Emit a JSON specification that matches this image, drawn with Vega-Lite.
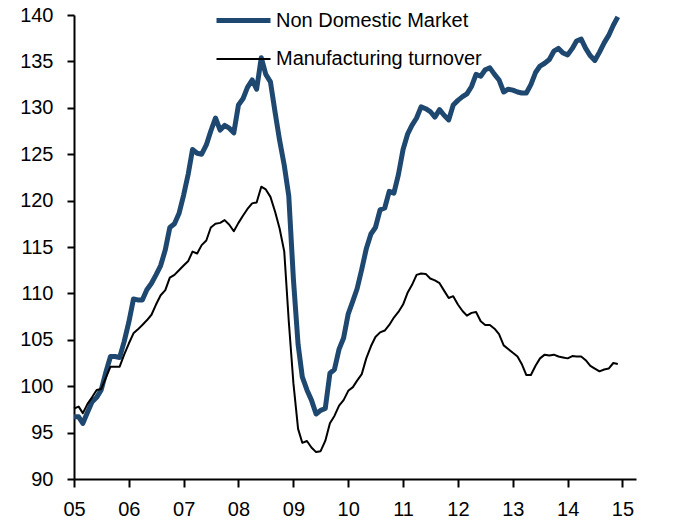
{
  "$schema": "https://vega.github.io/schema/vega-lite/v6.json",
  "width": 562,
  "height": 464,
  "autosize": "none",
  "padding": {"left": 74, "top": 15, "right": 38, "bottom": 42},
  "background": "white",
  "config": {
    "view": {"stroke": null},
    "axis": {"grid": false, "domainColor": "black", "tickColor": "black", "labelColor": "black", "domainWidth": 2, "tickWidth": 2}
  },
  "data": {
    "values": [
      {"d": "2005-01-01", "ndm": 96.7, "mt": 97.6},
      {"d": "2005-02-01", "ndm": 96.7, "mt": 97.8},
      {"d": "2005-03-01", "ndm": 96.0, "mt": 97.1},
      {"d": "2005-04-01", "ndm": 97.2, "mt": 98.1},
      {"d": "2005-05-01", "ndm": 98.3, "mt": 98.8},
      {"d": "2005-06-01", "ndm": 98.8, "mt": 99.6},
      {"d": "2005-07-01", "ndm": 99.6, "mt": 99.7},
      {"d": "2005-08-01", "ndm": 101.5, "mt": 100.9},
      {"d": "2005-09-01", "ndm": 103.2, "mt": 102.1},
      {"d": "2005-10-01", "ndm": 103.2, "mt": 102.1},
      {"d": "2005-11-01", "ndm": 103.1, "mt": 102.1},
      {"d": "2005-12-01", "ndm": 104.8, "mt": 103.4},
      {"d": "2006-01-01", "ndm": 106.9, "mt": 104.6},
      {"d": "2006-02-01", "ndm": 109.4, "mt": 105.7},
      {"d": "2006-03-01", "ndm": 109.3, "mt": 106.1},
      {"d": "2006-04-01", "ndm": 109.3, "mt": 106.6},
      {"d": "2006-05-01", "ndm": 110.4, "mt": 107.1},
      {"d": "2006-06-01", "ndm": 111.1, "mt": 107.7},
      {"d": "2006-07-01", "ndm": 112.0, "mt": 108.8},
      {"d": "2006-08-01", "ndm": 113.0, "mt": 109.8},
      {"d": "2006-09-01", "ndm": 114.7, "mt": 110.35},
      {"d": "2006-10-01", "ndm": 117.1, "mt": 111.7},
      {"d": "2006-11-01", "ndm": 117.5, "mt": 112.0},
      {"d": "2006-12-01", "ndm": 118.6, "mt": 112.5},
      {"d": "2007-01-01", "ndm": 120.6, "mt": 113.0},
      {"d": "2007-02-01", "ndm": 122.9, "mt": 113.5},
      {"d": "2007-03-01", "ndm": 125.5, "mt": 114.5},
      {"d": "2007-04-01", "ndm": 125.1, "mt": 114.3},
      {"d": "2007-05-01", "ndm": 125.0, "mt": 115.2},
      {"d": "2007-06-01", "ndm": 126.0, "mt": 115.7},
      {"d": "2007-07-01", "ndm": 127.5, "mt": 117.1},
      {"d": "2007-08-01", "ndm": 128.9, "mt": 117.5},
      {"d": "2007-09-01", "ndm": 127.6, "mt": 117.6},
      {"d": "2007-10-01", "ndm": 128.1, "mt": 117.9},
      {"d": "2007-11-01", "ndm": 127.8, "mt": 117.4},
      {"d": "2007-12-01", "ndm": 127.3, "mt": 116.7},
      {"d": "2008-01-01", "ndm": 130.3, "mt": 117.6},
      {"d": "2008-02-01", "ndm": 131.0, "mt": 118.4},
      {"d": "2008-03-01", "ndm": 132.2, "mt": 119.1},
      {"d": "2008-04-01", "ndm": 133.0, "mt": 119.7},
      {"d": "2008-05-01", "ndm": 132.0, "mt": 119.8},
      {"d": "2008-06-01", "ndm": 135.4, "mt": 121.5},
      {"d": "2008-07-01", "ndm": 133.6, "mt": 121.2},
      {"d": "2008-08-01", "ndm": 132.8, "mt": 120.4},
      {"d": "2008-09-01", "ndm": 129.5, "mt": 118.8},
      {"d": "2008-10-01", "ndm": 126.5, "mt": 117.0},
      {"d": "2008-11-01", "ndm": 123.8, "mt": 114.5},
      {"d": "2008-12-01", "ndm": 120.5, "mt": 107.0},
      {"d": "2009-01-01", "ndm": 111.5, "mt": 100.3},
      {"d": "2009-02-01", "ndm": 104.5, "mt": 95.4},
      {"d": "2009-03-01", "ndm": 101.0, "mt": 93.9},
      {"d": "2009-04-01", "ndm": 99.6, "mt": 94.1},
      {"d": "2009-05-01", "ndm": 98.5, "mt": 93.4},
      {"d": "2009-06-01", "ndm": 97.0, "mt": 92.9},
      {"d": "2009-07-01", "ndm": 97.4, "mt": 93.0},
      {"d": "2009-08-01", "ndm": 97.6, "mt": 94.1},
      {"d": "2009-09-01", "ndm": 101.4, "mt": 96.0},
      {"d": "2009-10-01", "ndm": 101.8, "mt": 96.8},
      {"d": "2009-11-01", "ndm": 104.0, "mt": 97.9},
      {"d": "2009-12-01", "ndm": 105.2, "mt": 98.5},
      {"d": "2010-01-01", "ndm": 107.8, "mt": 99.5},
      {"d": "2010-02-01", "ndm": 109.2, "mt": 99.9},
      {"d": "2010-03-01", "ndm": 110.5, "mt": 100.6},
      {"d": "2010-04-01", "ndm": 112.6, "mt": 101.3},
      {"d": "2010-05-01", "ndm": 114.8, "mt": 103.0},
      {"d": "2010-06-01", "ndm": 116.4, "mt": 104.3},
      {"d": "2010-07-01", "ndm": 117.1, "mt": 105.3},
      {"d": "2010-08-01", "ndm": 119.0, "mt": 105.8},
      {"d": "2010-09-01", "ndm": 119.2, "mt": 106.0},
      {"d": "2010-10-01", "ndm": 121.0, "mt": 106.6},
      {"d": "2010-11-01", "ndm": 120.8, "mt": 107.4},
      {"d": "2010-12-01", "ndm": 122.8, "mt": 108.0},
      {"d": "2011-01-01", "ndm": 125.5, "mt": 108.8},
      {"d": "2011-02-01", "ndm": 127.2, "mt": 110.1},
      {"d": "2011-03-01", "ndm": 128.1, "mt": 110.9},
      {"d": "2011-04-01", "ndm": 128.9, "mt": 112.0},
      {"d": "2011-05-01", "ndm": 130.1, "mt": 112.15},
      {"d": "2011-06-01", "ndm": 129.9, "mt": 112.1},
      {"d": "2011-07-01", "ndm": 129.6, "mt": 111.6},
      {"d": "2011-08-01", "ndm": 129.0, "mt": 111.4},
      {"d": "2011-09-01", "ndm": 129.8, "mt": 111.1},
      {"d": "2011-10-01", "ndm": 129.2, "mt": 110.3},
      {"d": "2011-11-01", "ndm": 128.7, "mt": 109.5},
      {"d": "2011-12-01", "ndm": 130.3, "mt": 109.7},
      {"d": "2012-01-01", "ndm": 130.8, "mt": 108.8},
      {"d": "2012-02-01", "ndm": 131.2, "mt": 108.1},
      {"d": "2012-03-01", "ndm": 131.5, "mt": 107.6},
      {"d": "2012-04-01", "ndm": 132.3, "mt": 107.9},
      {"d": "2012-05-01", "ndm": 133.6, "mt": 108.0},
      {"d": "2012-06-01", "ndm": 133.4, "mt": 107.0},
      {"d": "2012-07-01", "ndm": 134.1, "mt": 106.6},
      {"d": "2012-08-01", "ndm": 134.3, "mt": 106.6},
      {"d": "2012-09-01", "ndm": 133.6, "mt": 106.2},
      {"d": "2012-10-01", "ndm": 133.0, "mt": 105.6},
      {"d": "2012-11-01", "ndm": 131.7, "mt": 104.4},
      {"d": "2012-12-01", "ndm": 132.0, "mt": 104.0},
      {"d": "2013-01-01", "ndm": 131.9, "mt": 103.6},
      {"d": "2013-02-01", "ndm": 131.7, "mt": 103.2},
      {"d": "2013-03-01", "ndm": 131.6, "mt": 102.4},
      {"d": "2013-04-01", "ndm": 131.6, "mt": 101.2},
      {"d": "2013-05-01", "ndm": 132.5, "mt": 101.2},
      {"d": "2013-06-01", "ndm": 133.8, "mt": 102.2},
      {"d": "2013-07-01", "ndm": 134.5, "mt": 103.0},
      {"d": "2013-08-01", "ndm": 134.8, "mt": 103.4},
      {"d": "2013-09-01", "ndm": 135.2, "mt": 103.3},
      {"d": "2013-10-01", "ndm": 136.1, "mt": 103.4},
      {"d": "2013-11-01", "ndm": 136.4, "mt": 103.2},
      {"d": "2013-12-01", "ndm": 135.9, "mt": 103.1},
      {"d": "2014-01-01", "ndm": 135.7, "mt": 103.0},
      {"d": "2014-02-01", "ndm": 136.4, "mt": 103.25},
      {"d": "2014-03-01", "ndm": 137.2, "mt": 103.2},
      {"d": "2014-04-01", "ndm": 137.4, "mt": 103.2},
      {"d": "2014-05-01", "ndm": 136.4, "mt": 102.8},
      {"d": "2014-06-01", "ndm": 135.6, "mt": 102.2},
      {"d": "2014-07-01", "ndm": 135.1, "mt": 101.9},
      {"d": "2014-08-01", "ndm": 136.0, "mt": 101.6},
      {"d": "2014-09-01", "ndm": 137.0, "mt": 101.8},
      {"d": "2014-10-01", "ndm": 137.8, "mt": 101.9},
      {"d": "2014-11-01", "ndm": 138.9, "mt": 102.5},
      {"d": "2014-12-01", "ndm": 139.8, "mt": 102.4}
    ]
  },
  "transform": [{"fold": ["ndm", "mt"], "as": ["series", "value"]}],
  "mark": {"type": "line", "strokeJoin": "round", "strokeCap": "butt"},
  "encoding": {
    "x": {
      "field": "d",
      "type": "temporal",
      "scale": {"type": "utc", "domain": [{"year": 2005, "month": 1, "date": 1, "utc": true}, {"year": 2015, "month": 4, "date": 1, "utc": true}]},
      "axis": {
        "title": null,
        "format": "%y",
        "tickCount": {"interval": "year", "step": 1},
        "labelFont": "Liberation Sans",
        "labelFontSize": 20,
        "labelPadding": 12,
        "tickSize": 8,
        "labelFlush": false,
        "labelOverlap": false
      }
    },
    "y": {
      "field": "value",
      "type": "quantitative",
      "scale": {"domain": [90, 140], "nice": false, "zero": false},
      "axis": {
        "title": null,
        "values": [90, 95, 100, 105, 110, 115, 120, 125, 130, 135, 140],
        "labelFont": "Liberation Sans",
        "labelFontSize": 20,
        "labelPadding": 14,
        "tickSize": 7
      }
    },
    "color": {
      "field": "series",
      "type": "nominal",
      "scale": {"domain": ["ndm", "mt"], "range": ["#1f4870", "#000000"]},
      "legend": {
        "orient": "none",
        "legendX": 140,
        "legendY": -24,
        "title": null,
        "padding": 0,
        "symbolType": "stroke",
        "symbolSize": 2916,
        "labelFont": "Liberation Sans",
        "labelFontSize": 20,
        "labelColor": "black",
        "labelOffset": 3,
        "labelLimit": 0,
        "rowPadding": -7,
        "labelExpr": "datum.value == 'ndm' ? 'Non Domestic Market' : 'Manufacturing turnover'"
      }
    },
    "strokeWidth": {
      "field": "series",
      "type": "nominal",
      "scale": {"domain": ["ndm", "mt"], "range": [5, 2]},
      "legend": {
        "orient": "none",
        "legendX": 140,
        "legendY": -24,
        "title": null,
        "padding": 0,
        "symbolType": "stroke",
        "symbolSize": 2916,
        "labelFont": "Liberation Sans",
        "labelFontSize": 20,
        "labelColor": "black",
        "labelOffset": 3,
        "labelLimit": 0,
        "rowPadding": -7,
        "labelExpr": "datum.value == 'ndm' ? 'Non Domestic Market' : 'Manufacturing turnover'"
      }
    }
  }
}
